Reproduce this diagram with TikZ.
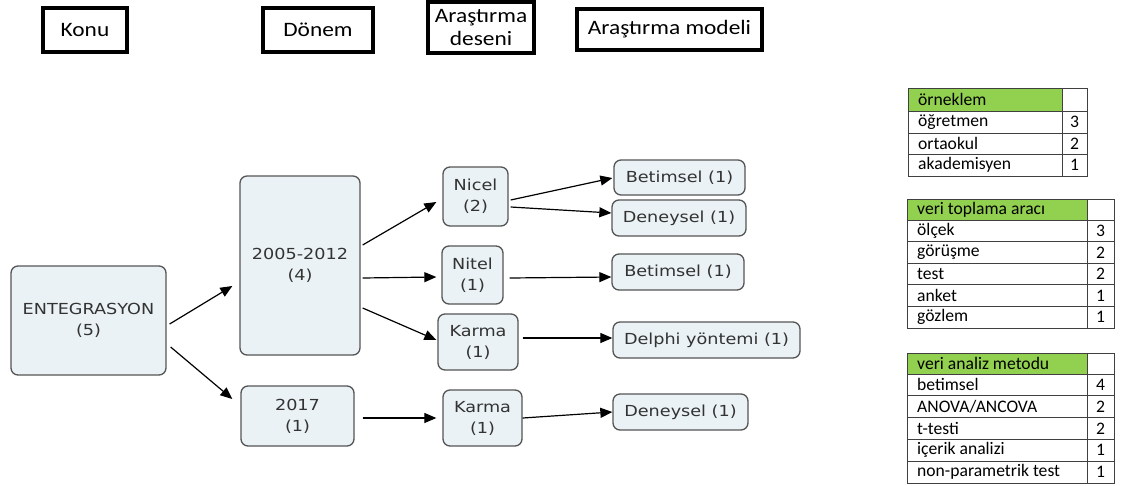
\documentclass[tikz,border=0pt]{standalone}
\usepackage{fontspec}
\setmainfont{DejaVu Sans}
\newfontfamily\nodefont[FakeStretch=1.16]{DejaVu Sans}
\newfontfamily\tblfont{Carlito}
\newfontfamily\hdrfont[FakeStretch=1.14]{Carlito}
\usetikzlibrary{arrows.meta,calc}
\definecolor{boxfill}{HTML}{EAF2F5}
\definecolor{boxline}{HTML}{555555}
\definecolor{boxtext}{HTML}{333333}
\definecolor{hdrgreen}{HTML}{92D050}
\definecolor{tblline}{HTML}{404040}
\tikzset{
  box/.style={draw=boxline, line width=1.3pt, fill=boxfill, rounded corners=7pt,
    align=center, text=boxtext, font=\nodefont\fontsize{15.2}{21}\selectfont, inner sep=0pt},
  hdr/.style={draw=black, line width=3.5pt, align=center,
    font=\hdrfont\fontsize{20.5}{23}\selectfont, inner sep=0pt},
  arr/.style={-{Triangle[length=12pt,width=10pt]}, line width=1.2pt, black},
  tbl/.style={draw=tblline, line width=0.9pt},
  tcell/.style={anchor=west, inner sep=0pt, font=\tblfont\fontsize{17.6}{20}\selectfont},
  tnum/.style={anchor=center, inner sep=0pt, font=\tblfont\fontsize{17.6}{20}\selectfont}
}
\begin{document}
\begin{tikzpicture}[x=1pt,y=-1pt]
\useasboundingbox (0,0) rectangle (1121,485);

% headers
\node[hdr, minimum width=84pt, minimum height=44pt] (konu) at (85,30) {Konu};
\node[hdr, minimum width=110pt, minimum height=44pt] (donem) at (318,30) {Dönem};
\node[hdr, minimum width=106pt, minimum height=51pt] (desen) at (481,27.5) {Araştırma\\deseni};
\node[hdr, minimum width=185pt, minimum height=41pt] (model) at (669.5,29.5) {Araştırma modeli};

% nodes
\node[box, minimum width=155pt, minimum height=109pt] (ent) at (88.5,320.5) {ENTEGRASYON\\(5)};
\node[box, minimum width=120pt, minimum height=179pt] (p1) at (300,265.5) {2005-2012\\(4)};
\node[box, minimum width=113pt, minimum height=60pt] (p2) at (297.5,416) {2017\\(1)};
\node[box, minimum width=65pt, minimum height=59pt] (nicel) at (475.5,196.5) {Nicel\\(2)};
\node[box, minimum width=61pt, minimum height=58pt] (nitel) at (472.5,275) {Nitel\\(1)};
\node[box, minimum width=80pt, minimum height=56pt] (karma1) at (478,342) {Karma\\(1)};
\node[box, minimum width=79pt, minimum height=56pt] (karma2) at (482.5,418) {Karma\\(1)};
\node[box, minimum width=131pt, minimum height=35pt] (bet1) at (679.5,177.5) {Betimsel (1)};
\node[box, minimum width=134pt, minimum height=36pt] (den1) at (679,218) {Deneysel (1)};
\node[box, minimum width=132pt, minimum height=36pt] (bet2) at (678,272) {Betimsel (1)};
\node[box, minimum width=187pt, minimum height=36pt] (delphi) at (706.5,340) {Delphi yöntemi (1)};
\node[box, minimum width=135pt, minimum height=36pt] (den2) at (680.5,412) {Deneysel (1)};

% connectors
\draw[arr] ($(ent.east)+(3,3.5)$) -- ($(p1.west)+(-7,20.5)$);
\draw[arr] ($(ent.east)+(4,26.5)$) -- ($(p2.west)+(-8,-17)$);
\draw[arr] ($(p1.east)+(2,-20.5)$) -- ($(nicel.west)+(-6,5.5)$);
\draw[arr] ($(p1.east)+(2,12.5)$) -- ($(nitel.west)+(-5,2)$);
\draw[arr] ($(p1.east)+(2,42.5)$) -- ($(karma1.west)+(-1,-2)$);
\draw[arr] ($(p2.east)+(8,2)$) -- ($(karma2.west)+(-6,0)$);
\draw[arr] ($(nicel.east)+(2,3.5)$) -- ($(bet1.west)+(-1,0.5)$);
\draw[arr] ($(nicel.east)+(2,10.5)$) -- ($(den1.west)+(0,-5)$);
\draw[arr] ($(nitel.east)+(6,3)$) -- ($(bet2.west)+(0,5)$);
\draw[arr] ($(karma1.east)+(4,-4)$) -- ($(delphi.west)+(0,-2)$);
\draw[arr] (karma2.east) -- (den2.west);

% table 1
\fill[hdrgreen] (908,88) rectangle (1062,111);
\draw[tbl] (908,88) rectangle (1087,176);
\foreach \y in {111,133,154} \draw[tbl] (908,\y) -- (1087,\y);
\draw[tbl] (1062,88) -- (1062,176);
\node[tcell] (t1h) at (918,99.5) {örneklem};
\node[tcell] (t1a) at (918,122) {öğretmen};
\node[tcell] (t1b) at (918,143.5) {ortaokul};
\node[tcell] (t1c) at (918,165) {akademisyen};
\node[tnum] (t1an) at (1074.5,122) {3};
\node[tnum] (t1bn) at (1074.5,143.5) {2};
\node[tnum] (t1cn) at (1074.5,165) {1};

% table 2
\fill[hdrgreen] (907,199) rectangle (1087,220);
\draw[tbl] (907,199) rectangle (1114,328);
\foreach \y in {220,241.6,263.2,284.8,306.4} \draw[tbl] (907,\y) -- (1114,\y);
\draw[tbl] (1087,199) -- (1087,328);
\node[tcell] (t2h) at (917,209.5) {veri toplama aracı};
\node[tcell] (t2a) at (917,230.8) {ölçek};
\node[tcell] (t2b) at (917,252.4) {görüşme};
\node[tcell] (t2c) at (917,274) {test};
\node[tcell] (t2d) at (917,295.6) {anket};
\node[tcell] (t2e) at (917,317.2) {gözlem};
\node[tnum] (t2an) at (1100.5,230.8) {3};
\node[tnum] (t2bn) at (1100.5,252.4) {2};
\node[tnum] (t2cn) at (1100.5,274) {2};
\node[tnum] (t2dn) at (1100.5,295.6) {1};
\node[tnum] (t2en) at (1100.5,317.2) {1};

% table 3
\fill[hdrgreen] (907,353) rectangle (1087,374);
\draw[tbl] (907,353) rectangle (1114,483);
\foreach \y in {374,395.8,417.6,439.4,461.2} \draw[tbl] (907,\y) -- (1114,\y);
\draw[tbl] (1087,353) -- (1087,483);
\node[tcell] (t3h) at (917,363.5) {veri analiz metodu};
\node[tcell] (t3a) at (917,384.9) {betimsel};
\node[tcell] (t3b) at (917,406.7) {ANOVA/ANCOVA};
\node[tcell] (t3c) at (917,428.5) {t-testi};
\node[tcell] (t3d) at (917,450.3) {içerik analizi};
\node[tcell] (t3e) at (917,472.1) {non-parametrik test};
\node[tnum] (t3an) at (1100.5,384.9) {4};
\node[tnum] (t3bn) at (1100.5,406.7) {2};
\node[tnum] (t3cn) at (1100.5,428.5) {2};
\node[tnum] (t3dn) at (1100.5,450.3) {1};
\node[tnum] (t3en) at (1100.5,472.1) {1};
\end{tikzpicture}
\end{document}
